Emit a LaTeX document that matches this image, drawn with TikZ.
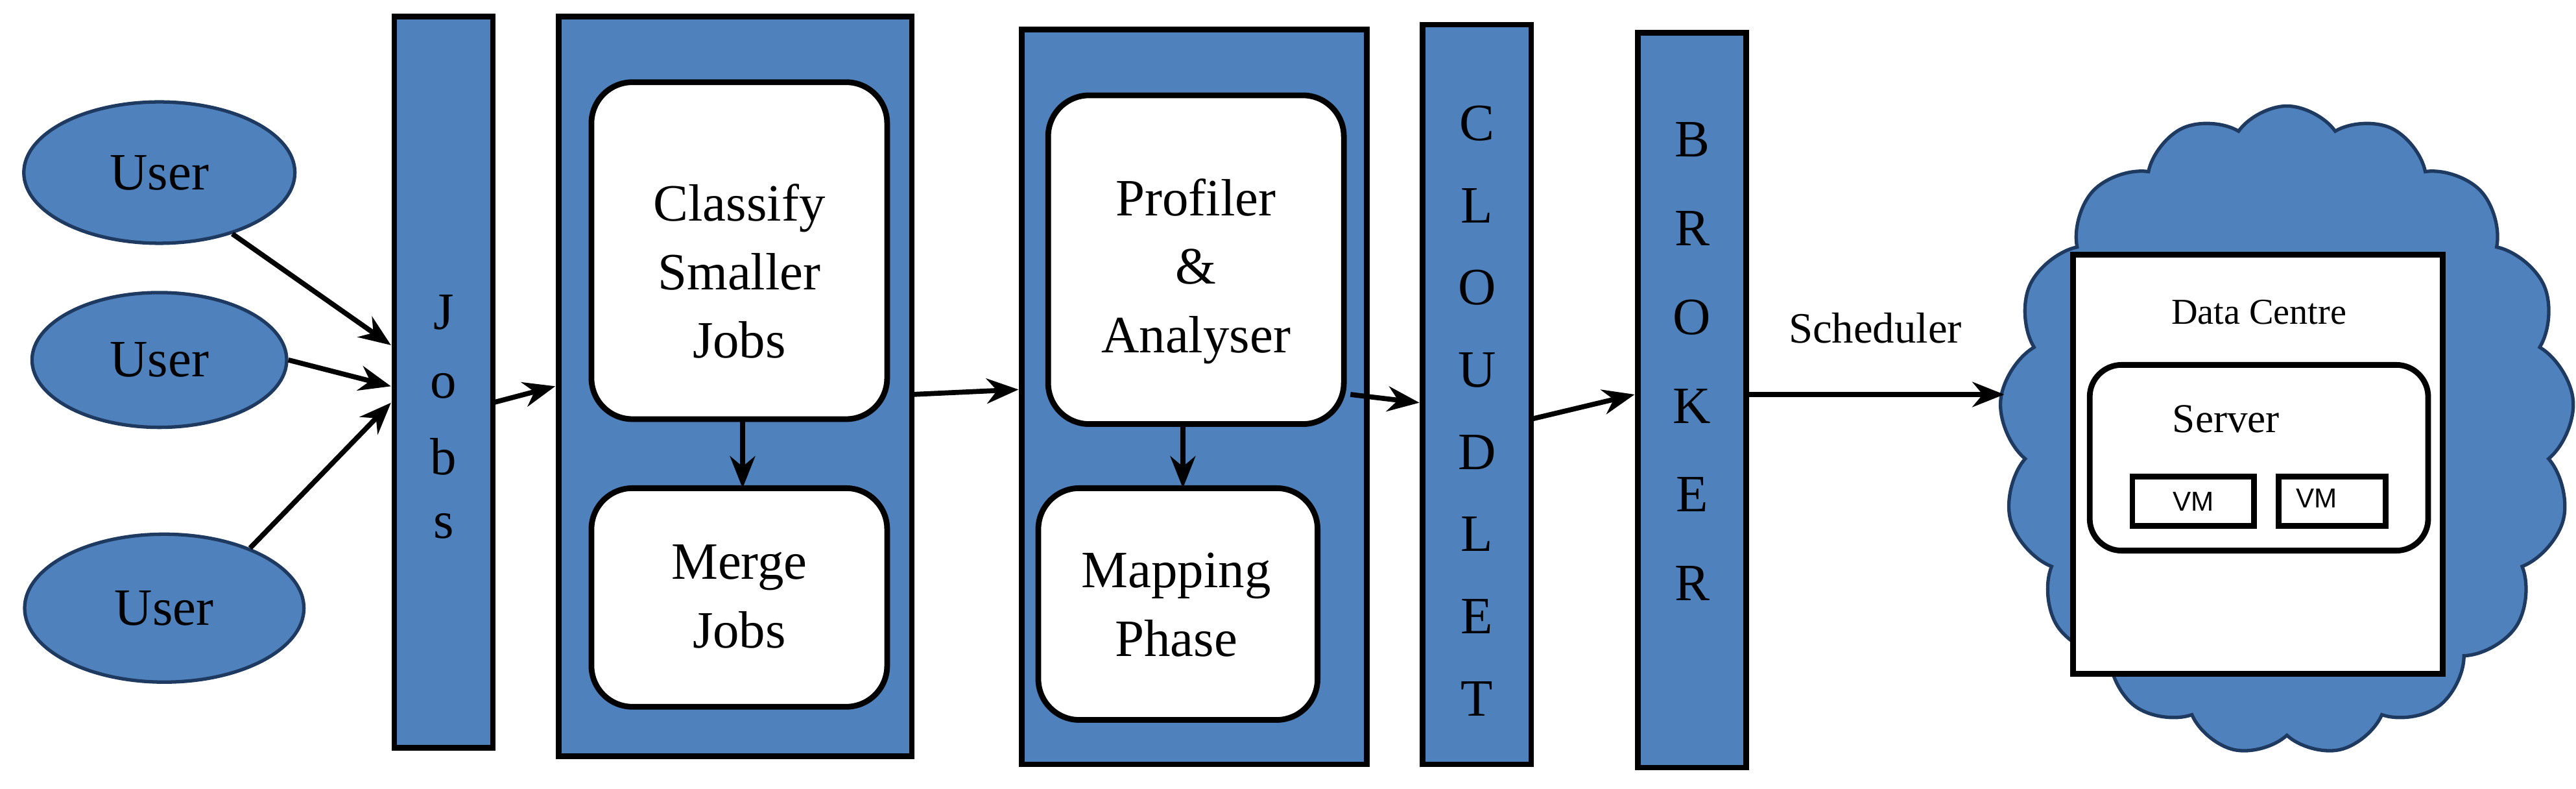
\documentclass[tikz,border=0pt]{standalone}
\usepackage{fontspec}
\setmainfont{Liberation Serif}
\newfontfamily\sansf{Liberation Sans}
\usetikzlibrary{shapes.geometric,shapes.symbols,arrows.meta}
\definecolor{bfill}{HTML}{4F81BD}
\definecolor{bdraw}{HTML}{1F3A60}
\begin{document}
\begin{tikzpicture}[x=0.02533cm,y=-0.02533cm,
  usr/.style={ellipse,fill=bfill,draw=bdraw,line width=1.5pt,font=\fontsize{23}{26}\selectfont},
  bar/.style={fill=bfill,draw=black,line width=2.5pt},
  inner/.style={fill=white,draw=black,line width=2.5pt,rounded corners=18pt},
  lbl/.style={font=\fontsize{23}{30}\selectfont,align=center},
  let/.style={font=\fontsize{23}{24}\selectfont},
  arr/.style={-{Stealth[length=14pt,width=11pt]},line width=2.2pt}]
\useasboundingbox (0,0) rectangle (1568,480);
\fill[white] (0,0) rectangle (1568,480);
% users
\node[usr,minimum width=165*0.02533cm,minimum height=86*0.02533cm] (u1) at (97,105) {User};
\node[usr,minimum width=155*0.02533cm,minimum height=82*0.02533cm] (u2) at (97,219) {User};
\node[usr,minimum width=170*0.02533cm,minimum height=90*0.02533cm] (u3) at (100,370) {User};
% jobs bar
\draw[bar] (240,10) rectangle (300,455);
\foreach \c/\y in {J/190,o/235,b/278,s/320} \node[let] at (270,\y) {\c};
\coordinate (jr) at (300,245);
% box1
\draw[bar] (340,10) rectangle (555,460);
\draw[inner] (360,50) rectangle (540,255);
\draw[inner] (360,297) rectangle (540,430);
\node[lbl] (cl) at (450,165) {Classify\\Smaller\\Jobs};
\node[lbl] (mg) at (450,363) {Merge\\Jobs};
\coordinate (b1l) at (338,235); \coordinate (b1r) at (555,240);
\coordinate (c1) at (452,255); \coordinate (m1) at (452,297);
% box2
\draw[bar] (622,18) rectangle (832,465);
\draw[inner] (638,58) rectangle (818,258);
\draw[inner] (632,297) rectangle (802,438);
\node[lbl] (pr) at (728,165) {Profiler\\\&\\Analyser};
\node[lbl] (mp) at (716,368) {Mapping\\Phase};
\coordinate (b2l) at (620,237); \coordinate (b2r) at (822,240);
\coordinate (p1) at (720,258); \coordinate (p2) at (720,297);
% cloudlet
\draw[bar] (866,15) rectangle (932,465);
\foreach \c [count=\i] in {C,L,O,U,D,L,E,T} \node[let] at (899,75+50*\i-50) {\c};
\coordinate (cll) at (864,245); \coordinate (clr) at (932,255);
% broker
\draw[bar] (997,20) rectangle (1063,467);
\foreach \c [count=\i] in {B,R,O,K,E,R} \node[let] at (1030,85+54*\i-54) {\c};
\coordinate (brl) at (995,240); \coordinate (brr) at (1063,240);
% cloud
\node[cloud,cloud puffs=17,cloud puff arc=110,aspect=0.9,fill=bfill,draw=bdraw,line width=1.5pt,
  minimum width=350*0.02533cm,minimum height=395*0.02533cm] (cloud) at (1392,262) {};
\draw[fill=white,draw=black,line width=2.5pt] (1262,155) rectangle (1487,410);
\node[font=\fontsize{16}{18}\selectfont] (dc) at (1375,190) {Data Centre};
\draw[fill=white,draw=black,line width=2.5pt,rounded corners=14pt] (1272,222) rectangle (1478,335);
\node[font=\fontsize{18}{20}\selectfont] (sv) at (1355,255) {Server};
\draw[fill=white,draw=black,line width=2.5pt] (1298,290) rectangle (1372,320);
\draw[fill=white,draw=black,line width=2.5pt] (1387,290) rectangle (1452,320);
\node[font=\sansf\fontsize{12}{14}\selectfont] (vm1) at (1335,305) {VM};
\node[font=\sansf\fontsize{12}{14}\selectfont] (vm2) at (1410,303) {VM};
\coordinate (cin) at (1220,240);
% arrows
\draw[arr] (u1.-40) -- (238,210);
\draw[arr] (u2.east) -- (238,235);
\draw[arr] (u3.35) -- (238,245);
\draw[arr] (jr) -- (b1l);
\draw[arr] (c1) -- (m1);
\draw[arr] (b1r) -- (b2l);
\draw[arr] (p1) -- (p2);
\draw[arr] (b2r) -- (cll);
\draw[arr] (clr) -- (brl);
\draw[arr] (brr) -- node[above=18pt,font=\fontsize{19}{22}\selectfont]{Scheduler} (cin);
\end{tikzpicture}
\end{document}
